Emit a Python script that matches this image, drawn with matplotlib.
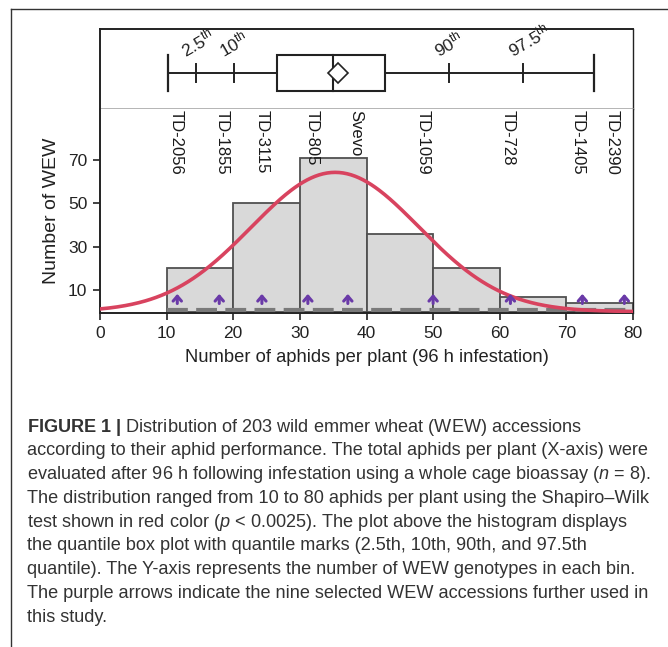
import numpy as np
import matplotlib
matplotlib.use("Agg")
import matplotlib.pyplot as plt
from matplotlib.lines import Line2D

plt.rcParams['font.family'] = ['Liberation Sans', 'DejaVu Sans']
plt.rcParams['mathtext.fontset'] = 'custom'
plt.rcParams['mathtext.rm'] = 'Liberation Sans'
plt.rcParams['mathtext.it'] = 'Liberation Sans:italic'
plt.rcParams['mathtext.bf'] = 'Liberation Sans:bold'

# histogram data
bin_edges = [10, 20, 30, 40, 50, 60, 70, 80]
counts = [20, 50, 71, 36, 20, 7, 4]

# normal fit (red curve)
fit_mean = 35.3
fit_sd = 12.6
n_total = 203

# quantile box plot
whisker_lo, whisker_hi = 10.2, 74.2
q1, median, q3 = 26.6, 35.0, 42.8
mean_val = 35.7
quantile_vals = [14.4, 20.1, 52.4, 63.5]
quantile_names = ['2.5', '10', '90', '97.5']

# selected accessions
acc_names = ['TD-2056', 'TD-1855', 'TD-3115', 'TD-805', 'Svevo',
             'TD-1059', 'TD-728', 'TD-1405', 'TD-2390']
acc_label_x = [11.5, 18.4, 24.3, 31.8, 38.4, 48.5, 61.2, 71.8, 76.8]
arrow_x = [11.6, 17.9, 24.3, 31.2, 37.2, 50.0, 61.6, 72.4, 78.7]

W, H = 668, 647
fig = plt.figure(figsize=(W / 100, H / 100), dpi=100)

left = 100 / W
width = 533 / W
ax_box = fig.add_axes([left, 1 - 109 / H, width, 80 / H])
ax = fig.add_axes([left, 1 - 313 / H, width, 204 / H], sharex=ax_box)

# --- histogram ---
ax.bar(bin_edges[:-1], counts, width=np.diff(bin_edges), align='edge',
       color='#d9d9d9', edgecolor='#505050', linewidth=1.3, zorder=2)
ax.plot([bin_edges[0], bin_edges[-1]], [0.9, 0.9], color='#7a7a7a', lw=3,
        dashes=(5, 2), zorder=3)

xs = np.linspace(0, 80, 400)
binw = bin_edges[1] - bin_edges[0]
ys = n_total * binw / (fit_sd * np.sqrt(2 * np.pi)) * np.exp(-(xs - fit_mean) ** 2 / (2 * fit_sd ** 2))
ax.plot(xs, ys, color='#d8435f', lw=2.6, zorder=4)

for x in arrow_x:
    ax.annotate('', xy=(x, 9.5), xytext=(x, 2.5),
                arrowprops=dict(arrowstyle='->,head_length=0.35,head_width=0.3',
                                color='#6a3aa8', lw=2.2), zorder=5)

for name, x in zip(acc_names, acc_label_x):
    ax.text(x, 93, name, rotation=-90, ha='center', va='top', fontsize=12,
            color='#1a1a1a')

ax.set_xlim(0, 80)
ax.set_ylim(-0.6, 93.5)
ax.set_xticks(range(0, 81, 10))
ax.set_yticks([10, 30, 50, 70])
ax.tick_params(labelsize=12.5, length=5, width=1.2, colors='#222222', pad=4)
ax.set_xlabel('Number of aphids per plant (96 h infestation)', fontsize=13.2,
              labelpad=6, color='#222222')
ax.set_ylabel('Number of WEW', fontsize=14, labelpad=6, color='#222222')
for s in ['left', 'bottom', 'right']:
    ax.spines[s].set_linewidth(1.4)
    ax.spines[s].set_color('#222222')
ax.spines['right'].set_linewidth(1.0)
ax.spines['top'].set_visible(False)

# --- box plot ---
yc = 0.45
ax_box.plot([whisker_lo, q1], [yc, yc], color='#222222', lw=1.4)
ax_box.plot([q3, whisker_hi], [yc, yc], color='#222222', lw=1.4)
for x in [whisker_lo, whisker_hi]:
    ax_box.plot([x, x], [0.22, 0.67], color='#222222', lw=1.6)
ax_box.add_patch(plt.Rectangle((q1, 0.23), q3 - q1, 0.45, fill=False,
                               edgecolor='#222222', lw=1.5))
ax_box.plot([median, median], [0.23, 0.68], color='#222222', lw=1.5)
ax_box.plot([mean_val], [yc], marker='D', ms=10, mfc='white', mec='#222222', mew=1.2)
for v, nm in zip(quantile_vals, quantile_names):
    ax_box.plot([v, v], [0.34, 0.56], color='#222222', lw=1.4)
    ax_box.text(v - 1.3, 0.61, r'$\mathregular{' + nm + '^{th}}$', rotation=30,
                rotation_mode='anchor', ha='left', va='bottom', fontsize=12.5,
                color='#222222')
ax_box.set_ylim(0, 1)
ax_box.tick_params(left=False, bottom=False, labelleft=False, labelbottom=False)
for s in ['left', 'top', 'right']:
    ax_box.spines[s].set_linewidth(1.4)
    ax_box.spines[s].set_color('#222222')
ax_box.spines['right'].set_linewidth(1.0)
ax_box.spines['bottom'].set_color('#a8a8a8')
ax_box.spines['bottom'].set_linewidth(1.2)

# --- outer frame ---
fig.add_artist(Line2D([11 / W, 11 / W], [0, 1 - 9 / H], color='#333333', lw=1.0))
fig.add_artist(Line2D([11 / W, 1], [1 - 9 / H, 1 - 9 / H], color='#333333', lw=1.0))

# --- caption ---
caption = [
    r'$\mathbf{FIGURE\ 1\ |}$ Distribution of 203 wild emmer wheat (WEW) accessions',
    'according to their aphid performance. The total aphids per plant (X-axis) were',
    r'evaluated after 96 h following infestation using a whole cage bioassay ($\mathit{n}$ = 8).',
    'The distribution ranged from 10 to 80 aphids per plant using the Shapiro–Wilk',
    r'test shown in red color ($\mathit{p}$ < 0.0025). The plot above the histogram displays',
    'the quantile box plot with quantile marks (2.5th, 10th, 90th, and 97.5th',
    'quantile). The Y-axis represents the number of WEW genotypes in each bin.',
    'The purple arrows indicate the nine selected WEW accessions further used in',
    'this study.',
]
for i, line in enumerate(caption):
    fig.text(27 / W, 1 - (427 + i * 23.8) / H, line, fontsize=13.05, ha='left',
             va='center', color='#333333')

fig.savefig('out.png', dpi=100, facecolor='w')
